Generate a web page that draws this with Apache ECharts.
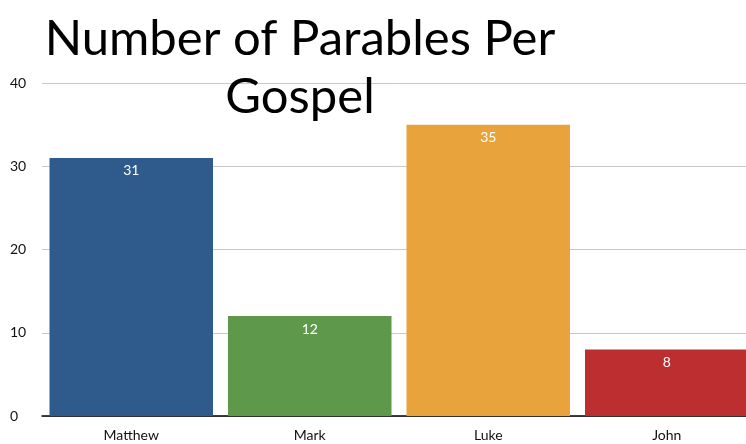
<!DOCTYPE html>
<html><head><meta charset="utf-8">
<script src="https://cdn.jsdelivr.net/npm/echarts@6/dist/echarts.min.js"></script>
<style>html,body{margin:0;padding:0;background:#fff}#c{width:746px;height:444px}</style>
</head><body><div id="c"></div>
<script>
const categories = ['Matthew', 'Mark', 'Luke', 'John'];
const parables = [31, 12, 35, 8];
const barColors = ['#2e5a8c', '#5e984a', '#e8a33c', '#bd2e31'];
const yTicks = [0, 10, 20, 30, 40];

const chart = echarts.init(document.getElementById('c'), null, {renderer: 'canvas'});
chart.setOption({
  animation: false,
  backgroundColor: '#fff',
  title: {
    text: 'Number of Parables Per\nGospel',
    left: 295, top: 5, textAlign: 'center',
    textStyle: {fontFamily: 'Lato', fontWeight: 'normal', fontSize: 49, color: '#000', lineHeight: 58}
  },
  grid: {left: 42, right: -10, top: 83, bottom: 28, containLabel: false, outerBoundsMode: 'none'},
  xAxis: {
    type: 'category', data: categories,
    axisLine: {lineStyle: {color: '#000', width: 1.5}},
    axisTick: {show: false},
    axisLabel: {color: '#111', fontFamily: 'Lato', fontSize: 14, margin: 12}
  },
  yAxis: {
    type: 'value', min: yTicks[0], max: yTicks[yTicks.length - 1], interval: 10,
    axisLine: {show: false}, axisTick: {show: false},
    axisLabel: {color: '#111', fontFamily: 'Lato', fontSize: 14, margin: 32, align: 'left'},
    splitLine: {lineStyle: {color: '#c8c8c8', width: 1}}
  },
  series: [{
    type: 'bar', barCategoryGap: '8.4%',
    data: parables.map((v, i) => ({value: v, itemStyle: {color: barColors[i]}})),
    label: {show: true, position: 'insideTop', distance: 6, color: '#fff', fontFamily: 'Lato', fontSize: 14}
  }]
});
</script></body></html>
